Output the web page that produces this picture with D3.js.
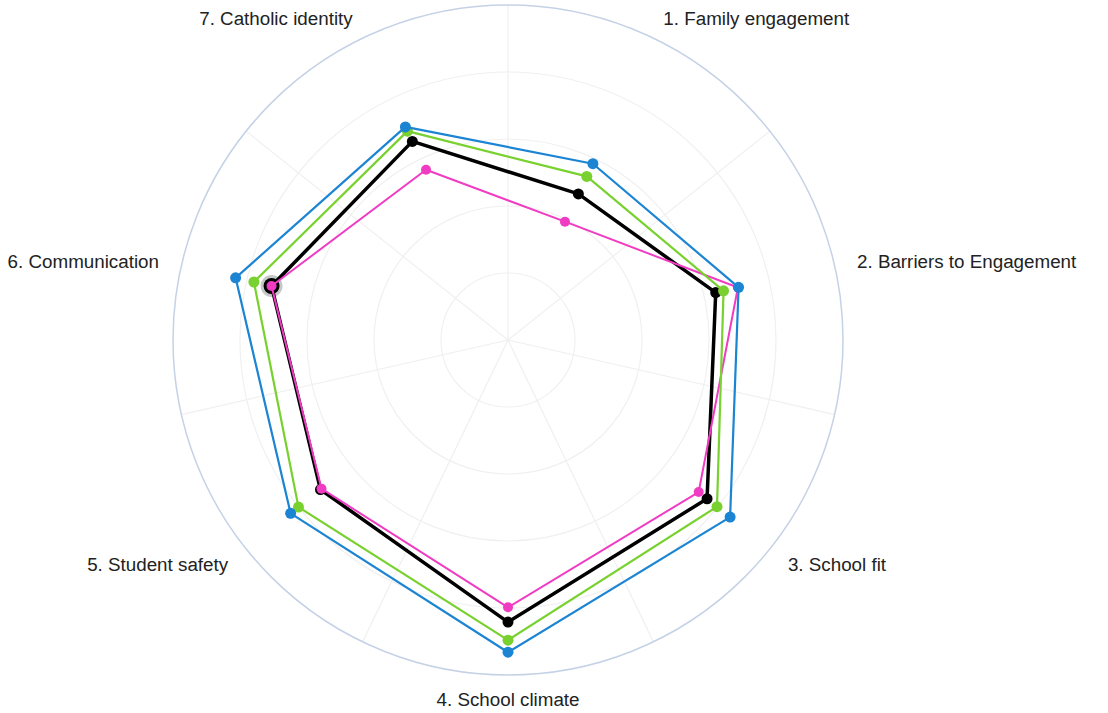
<!DOCTYPE html>
<html>
<head>
<meta charset="utf-8">
<script src="https://cdn.jsdelivr.net/npm/d3@7"></script>
<style>
  body { margin: 0; background: #fff; }
  text { font-family: "Liberation Sans", Arial, sans-serif; }
</style>
</head>
<body>
<div id="chart-area"></div>
<script>
const categories = [
    "1. Family engagement",
    "2. Barriers to Engagement",
    "3. School fit",
    "4. School climate",
    "5. Student safety",
    "6. Communication",
    "7. Catholic identity"
];

const blueValues  = [2.92, 3.53, 4.24, 4.66, 4.15, 4.17, 3.53];
const greenValues = [2.71, 3.30, 3.99, 4.48, 4.00, 3.89, 3.46];
const blackValues = [2.42, 3.18, 3.80, 4.21, 3.58, 3.62, 3.29];
const pinkValues  = [1.96, 3.52, 3.64, 3.99, 3.56, 3.62, 2.82];

const ringTicks = [1, 2, 3, 4, 5];

const width = 1108;
const height = 713;
const cx = 508, cy = 340;
const radius = 335;

const svg = d3.select('#chart-area')
    .append('svg')
    .attr("width", width)
    .attr("height", height);

const g = svg.append("g")
    .attr("transform", `translate(${cx}, ${cy})`);

const r = d3.scaleLinear()
    .domain([0, 5])
    .range([0, radius]);

const step = 2 * Math.PI / categories.length;
// points sit between the spokes
const angle = i => step * i + step / 2;

// grid rings
g.selectAll(".ring")
    .data(ringTicks.slice(0, -1))
    .enter().append("circle")
    .attr("class", "ring")
    .attr("r", d => r(d))
    .attr("fill", "none")
    .attr("stroke", "#f0f0f0")
    .attr("stroke-width", 1.2);

// spokes
g.selectAll(".spoke")
    .data(d3.range(categories.length))
    .enter().append("line")
    .attr("class", "spoke")
    .attr("x1", 0).attr("y1", 0)
    .attr("x2", i => r(5) * Math.sin(step * i))
    .attr("y2", i => -r(5) * Math.cos(step * i))
    .attr("stroke", "#f0f0f0")
    .attr("stroke-width", 1.2);

g.append("circle")
    .attr("r", r(5))
    .attr("fill", "none")
    .attr("stroke", "#c5d2e6")
    .attr("stroke-width", 1.5);

// labels
const labelR = radius + 23;
g.selectAll(".cat-label")
    .data(categories)
    .enter().append("text")
    .attr("class", "cat-label")
    .attr("x", (d, i) => labelR * Math.sin(angle(i)))
    .attr("y", (d, i) => -labelR * Math.cos(angle(i)) + 1)
    .attr("dominant-baseline", "central")
    .attr("text-anchor", (d, i) => {
        const s = Math.sin(angle(i));
        return s > 0.1 ? "start" : (s < -0.1 ? "end" : "middle");
    })
    .attr("font-size", "18.8px")
    .attr("fill", "#222")
    .text(d => d);

const series = [
    { name: "black", values: blackValues, color: "#000000", width: 3.5, mr: 5.5 },
    { name: "pink",  values: pinkValues,  color: "#f03cc3", width: 2,   mr: 5 },
    { name: "green", values: greenValues, color: "#78d12e", width: 2.2, mr: 5.5 },
    { name: "blue",  values: blueValues,  color: "#1b84d3", width: 2.2, mr: 5.5 }
];

const line = d3.lineRadial()
    .angle((d, i) => angle(i))
    .radius(d => r(d))
    .curve(d3.curveLinearClosed);

// hover halo on black series, communication point
const hi = 5;
g.append("circle")
    .attr("cx", r(blackValues[hi]) * Math.sin(angle(hi)))
    .attr("cy", -r(blackValues[hi]) * Math.cos(angle(hi)))
    .attr("r", 11)
    .attr("fill", "#000")
    .attr("fill-opacity", 0.22);

series.forEach(s => {
    const sg = g.append("g").attr("class", "series-" + s.name);
    sg.append("path")
        .datum(s.values)
        .attr("d", line)
        .attr("fill", "none")
        .attr("stroke", s.color)
        .attr("stroke-width", s.width)
        .attr("stroke-linejoin", "round");
    sg.selectAll("circle")
        .data(s.values)
        .enter().append("circle")
        .attr("cx", (d, i) => r(d) * Math.sin(angle(i)))
        .attr("cy", (d, i) => -r(d) * Math.cos(angle(i)))
        .attr("r", (d, i) => (s.name === "black" && i === hi) ? 8 : s.mr)
        .attr("fill", s.color);
});
</script>
</body>
</html>
